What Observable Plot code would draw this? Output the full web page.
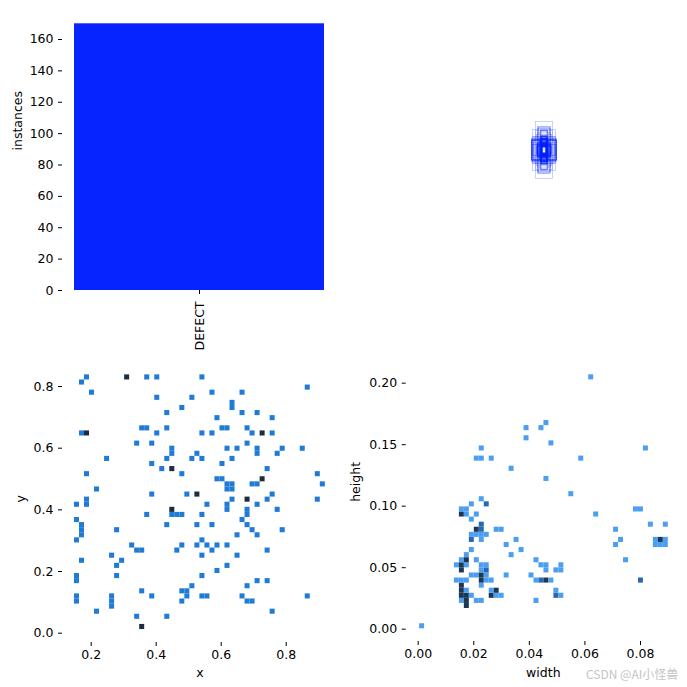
<!DOCTYPE html>
<html><head><meta charset="utf-8">
<script src="https://cdn.jsdelivr.net/npm/d3@7"></script>
<script src="https://cdn.jsdelivr.net/npm/@observablehq/plot@0.6"></script>
<style>
body{margin:0;background:#fff;}
#fig{position:relative;width:687px;height:687px;font-family:"DejaVu Sans",sans-serif;overflow:hidden;}
#fig svg{position:absolute;left:0;top:0;}
#wm{position:absolute;left:586px;top:665px;font:12px "Noto Sans CJK SC","DejaVu Sans",sans-serif;color:#c4c4c4;white-space:nowrap;}
</style></head><body><div id="fig"><div id="wm">CSDN @AI小怪兽</div></div>
<script>
// ---- data ----
const classNames = ["DEFECT"];
const classCounts = [170];
const countTicks = [0, 20, 40, 60, 80, 100, 120, 140, 160];

// x / y label centres (x, y, count) — 2D histogram cells
const xyCells = [
[0.186,0.830,1],[0.309,0.830,2],[0.371,0.830,1],[0.402,0.830,1],[0.541,0.830,1],
[0.172,0.814,1],[0.865,0.798,1],[0.203,0.782,1],[0.571,0.782,1],[0.664,0.782,1],
[0.402,0.765,1],[0.510,0.765,1],
[0.633,0.747,1],[0.633,0.731,1],[0.479,0.733,1],
[0.433,0.715,1],[0.664,0.715,1],[0.710,0.715,1],
[0.587,0.698,1],[0.757,0.698,1],
[0.355,0.666,1],[0.371,0.666,1],[0.433,0.666,1],[0.602,0.666,1],[0.618,0.666,1],[0.680,0.666,1],
[0.172,0.650,1],[0.186,0.650,2],[0.402,0.650,1],[0.541,0.650,1],[0.571,0.650,1],[0.695,0.650,1],[0.726,0.650,2],[0.757,0.650,1],
[0.340,0.617,1],[0.386,0.617,1],[0.680,0.617,1],
[0.618,0.600,1],[0.649,0.600,1],[0.788,0.600,1],[0.849,0.600,1],
[0.448,0.600,1],[0.448,0.584,1],[0.710,0.600,1],[0.710,0.584,1],
[0.525,0.584,1],[0.772,0.584,1],
[0.247,0.568,1],[0.433,0.568,1],[0.510,0.568,1],[0.541,0.568,1],[0.633,0.568,1],
[0.386,0.551,1],[0.602,0.551,1],
[0.417,0.535,1],[0.448,0.535,2],[0.741,0.535,1],
[0.186,0.517,1],[0.479,0.517,1],[0.896,0.517,1],
[0.587,0.500,1],[0.602,0.500,1],[0.726,0.500,2],
[0.618,0.484,1],[0.633,0.484,1],[0.618,0.468,1],[0.633,0.468,1],
[0.695,0.484,1],[0.710,0.484,1],[0.911,0.484,1],
[0.217,0.468,1],
[0.386,0.452,1],[0.494,0.452,1],[0.525,0.452,2],[0.757,0.452,1],
[0.633,0.436,1],[0.680,0.436,2],[0.741,0.436,1],[0.896,0.436,1],
[0.155,0.419,1],[0.186,0.436,1],[0.186,0.419,1],[0.556,0.419,1],[0.710,0.419,1],
[0.618,0.419,1],[0.618,0.403,1],
[0.448,0.403,2],[0.772,0.403,1],[0.680,0.403,1],[0.680,0.387,1],
[0.448,0.387,1],[0.464,0.387,1],[0.479,0.387,1],[0.371,0.387,1],[0.541,0.387,1],
[0.155,0.369,1],[0.664,0.369,1],
[0.170,0.352,1],[0.170,0.336,1],[0.170,0.320,1],
[0.433,0.352,1],[0.525,0.352,1],[0.571,0.352,1],[0.680,0.352,1],
[0.278,0.336,1],[0.695,0.336,1],[0.788,0.336,1],
[0.649,0.320,1],[0.710,0.320,1],
[0.155,0.304,1],[0.541,0.304,1],
[0.325,0.288,1],[0.479,0.288,1],[0.525,0.288,1],[0.556,0.288,1],[0.587,0.288,1],[0.618,0.288,1],
[0.340,0.270,1],[0.355,0.270,1],[0.464,0.270,1],[0.571,0.270,1],[0.741,0.270,1],
[0.263,0.254,1],[0.541,0.254,1],[0.649,0.254,1],
[0.170,0.236,1],[0.294,0.236,1],
[0.278,0.220,1],[0.618,0.220,1],
[0.587,0.203,1],
[0.278,0.187,1],[0.541,0.187,1],[0.155,0.187,1],[0.155,0.171,1],
[0.710,0.171,1],[0.741,0.171,1],
[0.510,0.154,1],[0.680,0.154,1],
[0.355,0.138,1],[0.479,0.138,1],[0.494,0.138,1],
[0.155,0.121,1],[0.155,0.105,1],[0.263,0.121,1],[0.263,0.105,1],[0.263,0.089,1],
[0.386,0.121,1],[0.494,0.121,1],[0.541,0.121,1],[0.556,0.121,1],[0.664,0.121,1],[0.865,0.121,1],
[0.479,0.105,1],[0.680,0.105,1],[0.695,0.105,1],
[0.217,0.071,1],[0.757,0.071,1],
[0.340,0.054,1],[0.433,0.054,1],
[0.355,0.020,2]
];

// width / height label sizes (w, h, count)
const whCells = [
[0.0620,0.2049,1],[0.0458,0.1678,1],[0.0389,0.1637,1],[0.0443,0.1637,1],[0.0389,0.1556,1],
[0.0479,0.1515,1],[0.0228,0.1472,1],[0.0820,0.1472,1],
[0.0210,0.1390,1],[0.0228,0.1390,1],[0.0264,0.1390,1],[0.0587,0.1390,1],
[0.0335,0.1304,1],[0.0461,0.1222,1],[0.0551,0.1100,1],[0.0228,0.1060,1],
[0.0192,0.1019,1],[0.0246,0.1019,2],
[0.0156,0.0978,1],[0.0174,0.0978,1],[0.0784,0.0978,1],[0.0802,0.0978,1],
[0.0156,0.0938,3],[0.0174,0.0938,1],[0.0210,0.0938,1],[0.0640,0.0938,1],[0.0192,0.0892,1],
[0.0228,0.0851,2],[0.0210,0.0810,3],[0.0228,0.0810,2],
[0.0192,0.0770,1],[0.0210,0.0770,1],[0.0228,0.0770,1],[0.0246,0.0770,1],
[0.0192,0.0729,2],[0.0228,0.0729,1],
[0.0282,0.0810,1],[0.0300,0.0810,1],[0.0838,0.0851,1],[0.0892,0.0851,1],[0.0712,0.0810,1],
[0.0353,0.0729,1],[0.0730,0.0729,1],
[0.0856,0.0729,1],[0.0874,0.0729,3],[0.0892,0.0729,1],[0.0856,0.0688,1],[0.0874,0.0688,1],[0.0892,0.0688,1],
[0.0318,0.0688,1],[0.0712,0.0688,1],
[0.0192,0.0645,1],[0.0371,0.0645,1],
[0.0174,0.0604,1],[0.0335,0.0604,1],
[0.0426,0.0559,1],[0.0748,0.0559,1],
[0.0155,0.0559,1],[0.0173,0.0559,3],[0.0209,0.0559,1],
[0.0137,0.0518,1],[0.0155,0.0518,3],[0.0173,0.0518,1],[0.0227,0.0518,1],[0.0245,0.0518,1],
[0.0443,0.0518,1],[0.0461,0.0518,1],[0.0515,0.0518,1],
[0.0155,0.0477,3],[0.0227,0.0477,1],[0.0245,0.0477,2],[0.0461,0.0477,1],[0.0497,0.0477,1],[0.0515,0.0477,1],
[0.0191,0.0437,1],[0.0209,0.0437,1],[0.0227,0.0437,3],[0.0245,0.0437,1],[0.0318,0.0437,1],[0.0407,0.0437,1],
[0.0137,0.0396,1],[0.0155,0.0396,1],[0.0173,0.0396,1],[0.0227,0.0396,3],[0.0245,0.0396,1],[0.0263,0.0396,1],
[0.0426,0.0396,1],[0.0443,0.0396,2],[0.0461,0.0396,3],[0.0479,0.0396,1],[0.0802,0.0396,2],
[0.0155,0.0355,3],[0.0227,0.0355,1],
[0.0155,0.0315,3],[0.0173,0.0315,1],[0.0263,0.0315,1],[0.0281,0.0315,3],[0.0497,0.0315,1],
[0.0155,0.0274,3],[0.0173,0.0274,3],[0.0191,0.0274,1],[0.0263,0.0274,3],[0.0281,0.0274,1],[0.0299,0.0274,1],
[0.0497,0.0274,2],[0.0515,0.0274,1],
[0.0155,0.0233,1],[0.0173,0.0233,3],[0.0209,0.0233,1],[0.0227,0.0233,1],[0.0426,0.0233,1],
[0.0173,0.0193,3],
[0.0012,0.0022,1]
];

const xBinRange = [0.1485, 0.9204];
const yBinRange = [0.0119, 0.8378];
const wBinRange = [0.0005, 0.0900];
const hBinRange = [0.0003, 0.2068];
const binCount = 50;

const xTicks = [0.2, 0.4, 0.6, 0.8];
const yTicks = [0.0, 0.2, 0.4, 0.6, 0.8];
const wTicks = [0.00, 0.02, 0.04, 0.06, 0.08];
const hTicks = [0.00, 0.05, 0.10, 0.15, 0.20];

// ---- build ----
const fig = document.getElementById("fig");
const grid = ([lo, hi]) => d3.range(binCount + 1).map(i => lo + i * (hi - lo) / binCount);
const baseStyle = {fontFamily: "DejaVu Sans, sans-serif", fontSize: "12.5px", color: "#000", background: "transparent", overflow: "visible"};
const classData = classNames.map((name, i) => ({name, count: classCounts[i]}));
const xyData = xyCells.map(([x, y, n]) => ({x, y, n}));
const whData = whCells.map(([w, h, n]) => ({w, h, n}));
const boxes = whData.flatMap(d => d3.range(d.n).map(() => d));
const BLUE = "#0624ff";

// Panel 1: instances per class
fig.appendChild(Plot.plot({
  width: 687, height: 687, style: baseStyle,
  marginLeft: 62, marginRight: 350, marginTop: 10, marginBottom: 397,
  x: {domain: classNames, range: [74, 324], padding: 0},
  y: {domain: [0, 170], range: [290, 23.3]},
  marks: [
    Plot.barY(classData, {x: "name", y: "count", fill: BLUE, inset: 0}),
    Plot.axisY(countTicks, {tickSize: 4, tickPadding: 5, label: null, tickFormat: d => String(d)}),
    Plot.axisX({tickRotate: -90, tickSize: 4, tickPadding: 7, label: null}),
    Plot.text(["instances"], {text: d => d, frameAnchor: "left", rotate: -90, dx: -45})
  ]
}));

// Panel 2: box outlines centred
fig.appendChild(Plot.plot({
  width: 687, height: 687, style: baseStyle,
  margin: 0,
  x: {domain: [0, 1], range: [404, 684], axis: null},
  y: {domain: [0, 1], range: [10, 290], axis: null},
  marks: [
    Plot.rect(boxes, {
      x1: d => 0.5 - d.w / 2, x2: d => 0.5 + d.w / 2,
      y1: d => 0.5 - d.h / 2, y2: d => 0.5 + d.h / 2,
      fill: "none", stroke: BLUE, strokeWidth: 0.6, strokeOpacity: 0.35, inset: 0
    })
  ]
}));

// Panel 3: x vs y histogram
fig.appendChild(Plot.plot({
  width: 687, height: 687, style: baseStyle,
  marginLeft: 62, marginRight: 350, marginTop: 362, marginBottom: 45,
  x: {domain: [0.1, 0.95], range: [58.2, 334.45]},
  y: {domain: [0, 0.84], range: [632.7, 373.7]},
  color: {type: "threshold", domain: [1.5], range: ["#1f7bd5", "#1d2c3e"]},
  marks: [
    Plot.rect(xyData, Plot.bin({fill: "sum"}, {
      x: {value: "x", thresholds: grid(xBinRange), domain: xBinRange},
      y: {value: "y", thresholds: grid(yBinRange), domain: yBinRange},
      fill: "n", inset: 0
    })),
    Plot.axisX(xTicks, {tickSize: 4, tickPadding: 4, label: null, tickFormat: d3.format(".1f")}),
    Plot.axisY(yTicks, {tickSize: 4, tickPadding: 5, label: null, tickFormat: d3.format(".1f")}),
    Plot.text(["x"], {text: d => d, frameAnchor: "bottom", dy: 34}),
    Plot.text(["y"], {text: d => d, frameAnchor: "left", rotate: -90, dx: -42})
  ]
}));

// Panel 4: width vs height histogram
fig.appendChild(Plot.plot({
  width: 687, height: 687, style: baseStyle,
  marginLeft: 405.7, marginRight: 7, marginTop: 361.6, marginBottom: 46,
  x: {domain: [0, 0.09], range: [417.7, 667.8]},
  y: {domain: [0, 0.2068], range: [628.7, 374.3]},
  color: {type: "threshold", domain: [1.5, 2.5], range: ["#4c9ff0", "#2668b2", "#1c3654"]},
  marks: [
    Plot.rect(whData, Plot.bin({fill: "sum"}, {
      x: {value: "w", thresholds: grid(wBinRange), domain: wBinRange},
      y: {value: "h", thresholds: grid(hBinRange), domain: hBinRange},
      fill: "n", inset: 0
    })),
    Plot.axisX(wTicks, {tickSize: 4, tickPadding: 4, label: null, tickFormat: d3.format(".2f")}),
    Plot.axisY(hTicks, {tickSize: 4, tickPadding: 5, label: null, tickFormat: d3.format(".2f")}),
    Plot.text(["width"], {text: d => d, frameAnchor: "bottom", dy: 35}),
    Plot.text(["height"], {text: d => d, frameAnchor: "left", rotate: -90, dx: -50})
  ]
}));
fig.appendChild(document.getElementById("wm"));
</script></body></html>
